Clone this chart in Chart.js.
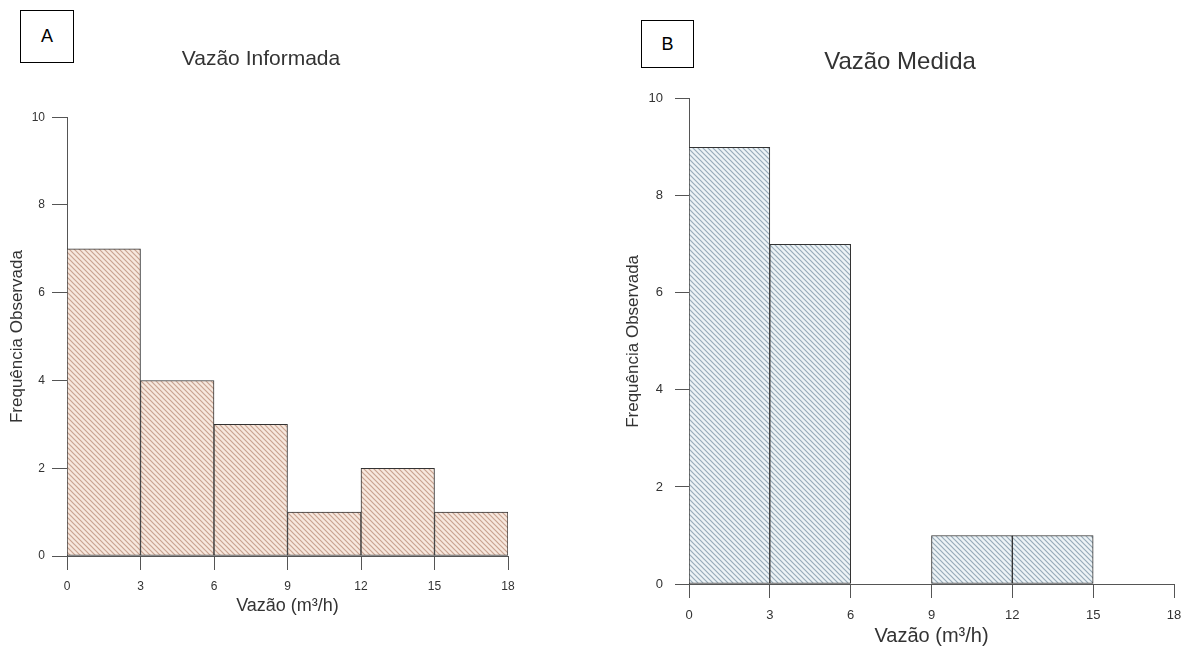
<!DOCTYPE html>
<html lang="pt">
<head>
  <meta charset="UTF-8">
  <title>Vazão informada x medida</title>
  <script src="https://cdn.jsdelivr.net/npm/chart.js"></script>
  <style>
    body {
      margin: 0;
      background: #fff;
      width: 1196px;
      height: 651px;
      position: relative;
      overflow: hidden;
      font-family: "Liberation Sans", Arial, sans-serif;
    }
    canvas {
      position: absolute;
      top: 0;
    }
    #graficoA { left: 0; }
    #graficoB { left: 600px; }
    .rotulo {
      position: absolute;
      border: 1px solid #000;
      box-sizing: border-box;
      display: flex;
      align-items: center;
      justify-content: center;
      font-size: 18px;
      color: #000;
    }
  </style>
</head>
<body>
  <div class="rotulo" style="left:20px; top:10px; width:54px; height:53px;">A</div>
  <div class="rotulo" style="left:641px; top:20px; width:53px; height:48px;">B</div>
  <canvas id="graficoA" width="560" height="651"></canvas>
  <canvas id="graficoB" width="596" height="651"></canvas>
  <script>
    // classes de vazão (m³/h) e frequências observadas
    const limitesClasse = [0, 3, 6, 9, 12, 15, 18];
    const freqInformada = [7, 4, 3, 1, 2, 1];
    const freqMedida = [9, 7, 0, 1, 1, 0];
    const ticksY = [0, 2, 4, 6, 8, 10];

    const fonte = '"Liberation Sans", Arial, sans-serif';

    // hachura diagonal (\\\) sobre fundo claro
    function hachura(fundo, linha) {
      const s = 5;
      const c = document.createElement('canvas');
      c.width = s; c.height = s;
      const g = c.getContext('2d');
      g.fillStyle = fundo;
      g.fillRect(0, 0, s, s);
      g.strokeStyle = linha;
      g.lineWidth = 1.2;
      g.beginPath();
      g.moveTo(0, 0); g.lineTo(s, s);
      g.moveTo(-1, s - 1); g.lineTo(1, s + 1);
      g.moveTo(s - 1, -1); g.lineTo(s + 1, 1);
      g.stroke();
      return g.createPattern(c, 'repeat');
    }

    function pontos(freqs) {
      return freqs.map((f, i) => ({
        x: (limitesClasse[i] + limitesClasse[i + 1]) / 2,
        y: f
      }));
    }

    function histograma(id, cfg) {
      new Chart(document.getElementById(id), {
        type: 'bar',
        data: {
          datasets: [{
            data: pontos(cfg.freqs),
            backgroundColor: hachura(cfg.fundo, cfg.linha),
            borderColor: '#333',
            borderWidth: 1,
            borderSkipped: false,
            barPercentage: 1,
            categoryPercentage: 1
          }]
        },
        options: {
          responsive: false,
          animation: false,
          layout: { padding: cfg.padding },
          plugins: {
            legend: { display: false },
            tooltip: { enabled: false },
            title: {
              display: true,
              text: cfg.titulo,
              color: '#333',
              font: { family: fonte, size: cfg.tamTitulo, weight: 'normal' },
              padding: cfg.padTitulo
            }
          },
          scales: {
            x: {
              type: 'linear',
              min: limitesClasse[0],
              max: limitesClasse[limitesClasse.length - 1],
              offset: false,
              afterBuildTicks: s => { s.ticks = limitesClasse.map(v => ({ value: v })); },
              ticks: {
                color: '#333',
                padding: cfg.padTickX,
                maxRotation: 0,
                font: { family: fonte, size: cfg.tamTick }
              },
              grid: {
                offset: false,
                drawOnChartArea: false,
                tickLength: 14,
                color: '#555'
              },
              border: { display: true, color: '#555' },
              title: {
                display: true,
                text: 'Vazão (m³/h)',
                color: '#333',
                font: { family: fonte, size: cfg.tamEixoX },
                padding: { top: 0, bottom: cfg.padTituloX }
              },
              afterFit: s => {
                s.height = cfg.alturaX;
                s.paddingLeft = 0;
                s.paddingRight = 0;
              }
            },
            y: {
              min: 0,
              max: 10,
              afterBuildTicks: s => { s.ticks = ticksY.map(v => ({ value: v })); },
              ticks: {
                color: '#333',
                padding: cfg.padTickY,
                font: { family: fonte, size: cfg.tamTick }
              },
              grid: {
                drawOnChartArea: false,
                tickLength: cfg.tickY,
                color: '#555'
              },
              border: { display: true, color: '#555' },
              title: {
                display: true,
                text: 'Frequência Observada',
                color: '#333',
                font: { family: fonte, size: 17 },
                padding: { top: cfg.padTituloY, bottom: 0 }
              },
              afterFit: s => { s.width = cfg.larguraY; }
            }
          }
        }
      });
    }

    histograma('graficoA', {
      freqs: freqInformada,
      titulo: 'Vazão Informada',
      fundo: '#f7e8de',
      linha: '#c9a391',
      padding: { left: 14, right: 52, top: 0, bottom: 0 },
      tamTitulo: 21,
      padTitulo: { top: 47, bottom: 45 },
      tamTick: 12,
      padTickX: 9,
      padTickY: 7,
      tickY: 15,
      tamEixoX: 18,
      padTituloX: 34,
      alturaX: 95,
      padTituloY: -7,
      larguraY: 53
    });

    histograma('graficoB', {
      freqs: freqMedida,
      titulo: 'Vazão Medida',
      fundo: '#edf3f6',
      linha: '#97abb9',
      padding: { left: 26, right: 22, top: 0, bottom: 0 },
      tamTitulo: 24,
      padTitulo: { top: 48, bottom: 22 },
      tamTick: 13,
      padTickX: 10,
      padTickY: 12,
      tickY: 14,
      tamEixoX: 20,
      padTituloX: 3,
      alturaX: 67,
      padTituloY: -3,
      larguraY: 63
    });
  </script>
</body>
</html>
